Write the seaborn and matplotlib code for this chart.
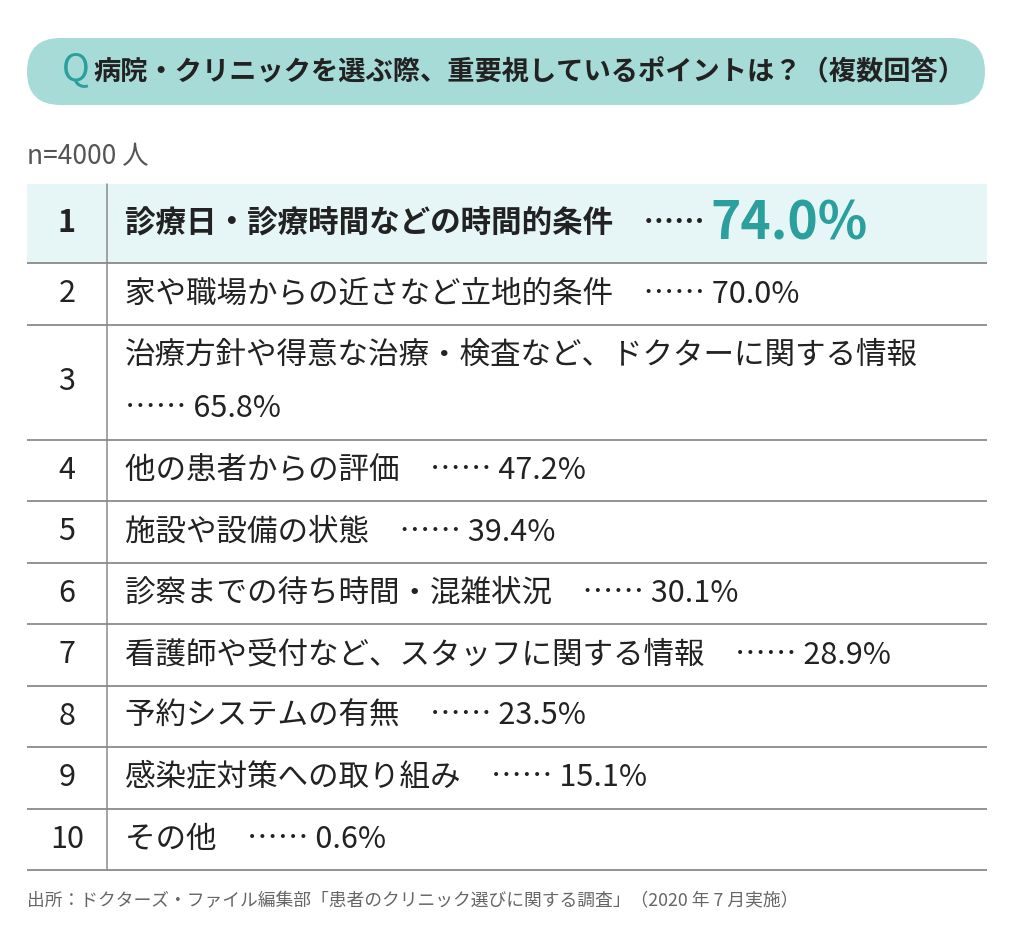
import matplotlib.pyplot as plt
import seaborn as sns
from matplotlib.patches import FancyBboxPatch, Rectangle

# ---------------------------------------------------------------
# Data
# ---------------------------------------------------------------
title = "病院・クリニックを選ぶ際、重要視しているポイントは？（複数回答）"
sample_note = "n=4000 人"
ranks = [1, 2, 3, 4, 5, 6, 7, 8, 9, 10]
items = [
    "診療日・診療時間などの時間的条件",
    "家や職場からの近さなど立地的条件",
    "治療方針や得意な治療・検査など、ドクターに関する情報",
    "他の患者からの評価",
    "施設や設備の状態",
    "診察までの待ち時間・混雑状況",
    "看護師や受付など、スタッフに関する情報",
    "予約システムの有無",
    "感染症対策への取り組み",
    "その他",
]
shares = [74.0, 70.0, 65.8, 47.2, 39.4, 30.1, 28.9, 23.5, 15.1, 0.6]
source = "出所：ドクターズ・ファイル編集部「患者のクリニック選びに関する調査」（2020 年 7 月実施）"

# ---------------------------------------------------------------
# Style
# ---------------------------------------------------------------
sns.set_theme(style="white")
plt.rcParams["font.family"] = ["Noto Sans CJK JP", "DejaVu Sans"]

TEAL = "#2a9f9b"
PILL = "#a6dbd8"
HIGHLIGHT = "#e6f5f5"
INK = "#222222"
GRAY = "#555555"
RULE = "#8a8a8a"

W, H = 1024, 939
LEFT, RIGHT, RANK_SEP = 27, 987, 107
TABLE_TOP = 184
TOP_ROW_H, ROW_H, EXTRA_LINE = 79, 61.5, 53.5
WRAP_AT = 22
BODY_FS = 22

fig = plt.figure(figsize=(W / 100, H / 100), dpi=100)
ax = fig.add_axes([0, 0, 1, 1])
ax.set_xlim(0, W)
ax.set_ylim(H, 0)
ax.axis("off")

# header pill
ax.add_patch(FancyBboxPatch((LEFT, 38), RIGHT - 2 - LEFT, 67,
                            boxstyle="round,pad=0,rounding_size=33.5",
                            facecolor=PILL, edgecolor="none"))
ax.text(62, 70, "Q", color=TEAL, fontsize=27, ha="left", va="center",
        family=["Noto Sans CJK JP", "DejaVu Sans"])
ax.text(93, 72, title, color=INK, fontsize=19.6, fontweight="bold",
        ha="left", va="center")

ax.text(LEFT, 157, sample_note, color=GRAY, fontsize=19, ha="left", va="center")

# ---------------------------------------------------------------
# Table rows
# ---------------------------------------------------------------
renderer = fig.canvas.get_renderer()
inv = ax.transData.inverted()

y = TABLE_TOP
for i, (rank, item, share) in enumerate(zip(ranks, items, shares)):
    wrapped = len(item) > WRAP_AT
    h = TOP_ROW_H if i == 0 else ROW_H + (EXTRA_LINE if wrapped else 0)
    cy = y + h / 2
    value = f"{share:.1f}%"

    if i == 0:
        ax.add_patch(Rectangle((LEFT, y), RIGHT - LEFT, h,
                               facecolor=HIGHLIGHT, edgecolor="none", zorder=0))
        ax.text(67, cy, str(rank), color=INK, fontsize=BODY_FS, fontweight="bold",
                ha="center", va="center")
        t = ax.text(125, cy, item + "　……", color=INK, fontsize=BODY_FS,
                    fontweight="bold", ha="left", va="center")
        x_end = inv.transform(t.get_window_extent(renderer))[1][0]
        ax.text(x_end + 6, cy + 1, value, color=TEAL, fontsize=37,
                fontweight="bold", ha="left", va="center")
    else:
        ax.text(67, cy, str(rank), color=INK, fontsize=BODY_FS, ha="center", va="center")
        if wrapped:
            ax.text(125, cy - EXTRA_LINE / 2, item, color=INK, fontsize=BODY_FS,
                    ha="left", va="center")
            ax.text(125, cy + EXTRA_LINE / 2, "…… " + value, color=INK,
                    fontsize=BODY_FS, ha="left", va="center")
        else:
            ax.text(125, cy, item + "　…… " + value, color=INK, fontsize=BODY_FS,
                    ha="left", va="center")

    y += h
    ax.plot([LEFT, RIGHT], [y, y], color=RULE, lw=1.3, solid_capstyle="butt")

ax.plot([RANK_SEP, RANK_SEP], [TABLE_TOP, y], color=RULE, lw=1.1)

ax.text(LEFT, 901, source, color="#666666", fontsize=12.8, ha="left", va="center")

fig.savefig("out.png", dpi=100)
plt.close(fig)
